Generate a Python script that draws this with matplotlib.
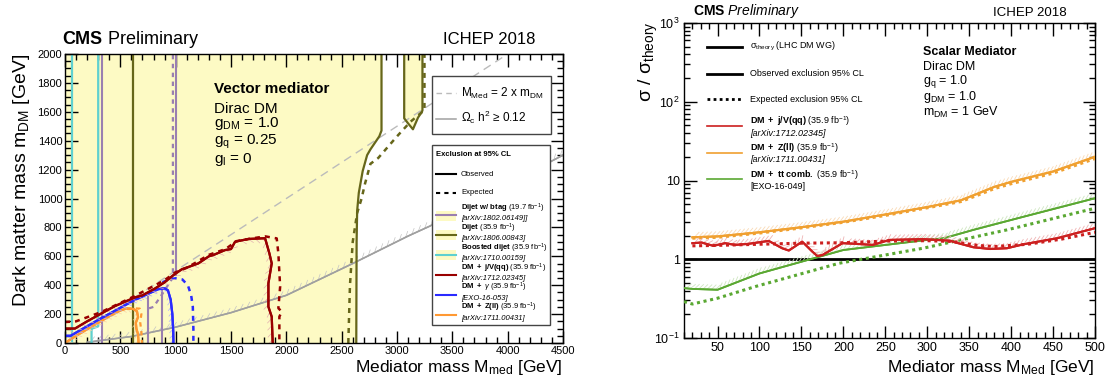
import matplotlib
matplotlib.use("Agg")
import matplotlib.pyplot as plt
from matplotlib import patheffects as pe
from matplotlib.patches import Rectangle
from matplotlib.lines import Line2D
from matplotlib.ticker import MultipleLocator, FixedLocator, FixedFormatter, LogLocator, NullFormatter

plt.rcParams['font.family'] = ['Liberation Sans', 'DejaVu Sans']
plt.rcParams['mathtext.fontset'] = 'custom'
plt.rcParams['mathtext.rm'] = 'Liberation Sans'
plt.rcParams['mathtext.it'] = 'Liberation Sans:italic'
plt.rcParams['mathtext.bf'] = 'Liberation Sans:bold'

# ---------------- left panel: vector mediator (M_med vs m_DM) ----------------
dijet_obs_x = [2632, 2635, 2640, 2655, 2690, 2730, 2760, 2800, 2840, 2860, 2860]
dijet_obs_y = [0, 700, 915, 1040, 1190, 1300, 1340, 1385, 1430, 1470, 2000]
dijet_exp_x = [2560, 2575, 2600, 2640, 2680, 2710, 2760, 2830, 3000, 3120, 3248, 3248]
dijet_exp_y = [0, 400, 700, 900, 1000, 1100, 1240, 1280, 1430, 1530, 1612, 2000]
dijet_island_x = [3065, 3065, 3100, 3144, 3190, 3225, 3230, 3230]
dijet_island_y = [2000, 1555, 1520, 1479, 1560, 1600, 1610, 2000]
dijet_low_x = [615, 615]
dijet_low_y = [0, 2000]

boosted_left_x = [60, 60]
boosted_left_y = [0, 2000]
boosted_right_x = [300, 300, 245, 240, 240]
boosted_right_y = [2000, 115, 100, 90, 0]
white_x = [240, 240, 300, 330, 330]
white_y = [0, 90, 115, 125, 0]

btag_left_x = [330, 330]
btag_left_y = [0, 2000]
btag_a_x = [748, 748]
btag_a_y = [0, 320]
btag_b_x = [874, 874]
btag_b_y = [0, 378]
btag_right_x = [1005, 1005]
btag_right_y = [470, 2000]
btag_exp_x = [760, 800, 880, 960, 975, 975]
btag_exp_y = [240, 250, 340, 436, 470, 2000]

jv_obs_x = [0, 90, 200, 330, 450, 630, 700, 815, 900, 980, 1055, 1130, 1205, 1300, 1341, 1446,
            1500, 1537, 1657, 1808, 1847, 1868, 1838, 1838, 1868, 1877]
jv_obs_y = [100, 100, 150, 205, 255, 315, 330, 378, 420, 470, 510, 530, 551, 600, 609, 643,
            650, 701, 720, 725, 620, 551, 413, 251, 182, 0]
jv_exp_x = [0, 100, 330, 630, 900, 1000, 1100, 1300, 1450, 1550, 1700, 1808, 1913, 1928, 1944,
            1928, 1958, 1937, 1937]
jv_exp_y = [145, 150, 215, 325, 435, 490, 520, 610, 650, 705, 725, 738, 724, 620, 390,
            241, 217, 182, 0]

gam_obs_x = [0, 50, 300, 630, 750, 850, 900, 930, 955, 970, 978, 980]
gam_obs_y = [50, 50, 160, 298, 340, 375, 378, 365, 300, 200, 80, 0]
gam_exp_x = [880, 940, 1000, 1060, 1110, 1140, 1155, 1160, 1160]
gam_exp_y = [420, 440, 448, 440, 400, 330, 250, 100, 0]

zll_obs_x = [0, 100, 200, 300, 400, 500, 560, 620, 650, 660, 640, 645, 660, 665]
zll_obs_y = [0, 50, 95, 140, 185, 225, 240, 235, 220, 180, 140, 100, 60, 0]
zll_exp_x = [560, 620, 675, 690, 680, 690, 695]
zll_exp_y = [235, 240, 238, 200, 140, 80, 0]

relic_x = [200, 300, 600, 1000, 1500, 2000, 2600, 3100, 3300, 3800, 4500]
relic_y = [5, 15, 45, 110, 210, 330, 550, 740, 810, 1020, 1300]
diag_x = [0, 4500]
diag_y = [0, 2250]

left_titles = [r"$\bf{Dijet\ w/\ btag}$ (19.7 fb$^{-1}$)", r"$\bf{Dijet}$ (35.9 fb$^{-1}$)",
               r"$\bf{Boosted\ dijet}$ (35.9 fb$^{-1}$)", r"$\bf{DM\ +\ j/V(qq)}$ (35.9 fb$^{-1}$)",
               r"$\bf{DM\ +}$ $\gamma$ (35.9 fb$^{-1}$)", r"$\bf{DM\ +\ Z(ll)}$ (35.9 fb$^{-1}$)"]
left_refs = ["[arXiv:1802.06149]]", "[arXiv:1806.00843]", "[arXiv:1710.00159]",
             "[arXiv:1712.02345]", "[EXO-16-053]", "[arXiv:1711.00431]"]
left_colors = ['#9a7fb0', '#66661a', '#5fd0d0', '#990000', '#2a2aff', '#ff9933']
left_filled = [True, True, True, False, False, False]

# ---------------- right panel: scalar mediator, sigma/sigma_theory ----------------
zll_r_x = [20, 50, 100, 150, 200, 250, 300, 340, 360, 380, 400, 450, 500]
zll_r_obs = [1.9, 1.95, 2.2, 2.55, 3.0, 3.7, 4.6, 5.6, 6.8, 8.3, 9.6, 13.0, 20.0]
zll_r_exp = [1.85, 1.9, 2.15, 2.5, 2.95, 3.6, 4.5, 5.4, 6.5, 7.9, 9.1, 12.4, 19.0]

jv_r_x = [20, 31, 45, 59, 71, 87, 111, 127, 135, 145, 151, 163, 169, 175, 199, 215, 235, 255,
          295, 327, 335, 355, 375, 395, 415, 455, 500]
jv_r_obs = [1.6, 1.63, 1.48, 1.6, 1.52, 1.57, 1.71, 1.38, 1.29, 1.52, 1.67, 1.25, 1.1, 1.13,
            1.6, 1.57, 1.52, 1.76, 1.8, 1.72, 1.62, 1.42, 1.35, 1.38, 1.55, 1.85, 2.48]
jv_r_exp_x = [20, 50, 100, 150, 200, 250, 300, 330, 360, 380, 420, 460, 500]
jv_r_exp = [1.48, 1.5, 1.55, 1.6, 1.62, 1.7, 1.72, 1.68, 1.5, 1.45, 1.55, 1.8, 2.2]

tt_r_x = [10, 20, 50, 100, 150, 200, 300, 320, 355, 415, 500]
tt_r_obs = [0.43, 0.42, 0.41, 0.66, 0.93, 1.31, 1.76, 1.85, 2.36, 3.47, 5.95]
tt_r_exp_x = [10, 20, 50, 95, 195, 295, 395, 500]
tt_r_exp = [0.29, 0.27, 0.32, 0.45, 0.89, 1.38, 2.36, 4.44]

theory_x = [10, 500]
theory_y = [1, 1]

W, H = 1109, 381


def fx(px):
    return px / W


def fy(py):
    return 1 - py / H


def hatch(color, angle, spacing=5, length=1.4, lw=0.6):
    return [pe.withTickedStroke(spacing=spacing, angle=angle, length=length,
                                foreground=color, linewidth=lw), pe.Normal()]


fig = plt.figure(figsize=(W / 100, H / 100), dpi=100)

# ======================= left panel =======================
axL = fig.add_axes([fx(65), fy(343), 498 / W, 289 / H])
axL.set_xlim(0, 4500)
axL.set_ylim(0, 2000)

yel = '#fdfac4'
axL.fill([0] + dijet_obs_x + [0], [0] + dijet_obs_y + [2000], color=yel, lw=0, zorder=1)
axL.fill(dijet_island_x, dijet_island_y, color=yel, lw=0, zorder=1)
axL.fill(white_x, white_y, color='white', lw=0, zorder=1.5)

axL.plot(diag_x, diag_y, color='#bbbbbb', lw=1, ls=(0, (6, 4)), zorder=2)
axL.plot(relic_x, relic_y, color='#a0a0a0', lw=1.1, zorder=2,
         path_effects=hatch('#c4c4c4', 45, spacing=5, length=0.9, lw=0.5))

olive = left_colors[1]
axL.plot(dijet_obs_x, dijet_obs_y, color=olive, lw=1.6, zorder=3)
axL.plot(dijet_island_x, dijet_island_y, color=olive, lw=1.6, zorder=3)
axL.plot(dijet_low_x, dijet_low_y, color=olive, lw=1.6, zorder=3)
axL.plot(dijet_exp_x, dijet_exp_y, color=olive, lw=1.8, ls=(0, (2, 2)), zorder=3)

cyan = left_colors[2]
axL.plot(boosted_left_x, boosted_left_y, color=cyan, lw=1.6, zorder=3)
axL.plot(boosted_right_x, boosted_right_y, color=cyan, lw=1.6, zorder=3)

purp = left_colors[0]
for xs, ys in [(btag_left_x, btag_left_y), (btag_a_x, btag_a_y), (btag_b_x, btag_b_y),
               (btag_right_x, btag_right_y)]:
    axL.plot(xs, ys, color=purp, lw=1.5, zorder=3)
axL.plot(btag_exp_x, btag_exp_y, color=purp, lw=1.6, ls=(0, (2, 2)), zorder=3)

axL.plot(zll_obs_x, zll_obs_y, color=left_colors[5], lw=1.6, zorder=4,
         path_effects=hatch('#f8d0a8', -45, spacing=4, length=0.9, lw=0.5))
axL.plot(zll_exp_x, zll_exp_y, color=left_colors[5], lw=1.6, ls=(0, (2, 2)), zorder=4)
axL.plot(gam_obs_x, gam_obs_y, color=left_colors[4], lw=1.6, zorder=5,
         path_effects=hatch('#b0b0ff', -45, spacing=4, length=0.9, lw=0.5))
axL.plot(gam_exp_x, gam_exp_y, color=left_colors[4], lw=1.8, ls=(0, (2, 2)), zorder=5)
axL.plot(jv_obs_x, jv_obs_y, color=left_colors[3], lw=1.6, zorder=6,
         path_effects=hatch('#e4b0b0', -45, spacing=5, length=0.9, lw=0.5))
axL.plot(jv_exp_x, jv_exp_y, color=left_colors[3], lw=1.8, ls=(0, (2, 2)), zorder=6)

axL.xaxis.set_major_locator(MultipleLocator(500))
axL.xaxis.set_minor_locator(MultipleLocator(100))
axL.yaxis.set_major_locator(MultipleLocator(200))
axL.yaxis.set_minor_locator(MultipleLocator(50))
axL.tick_params(which='both', direction='in', top=True, right=True, labelsize=8, pad=2)
axL.tick_params(which='major', length=9, width=1)
axL.tick_params(which='minor', length=4.5, width=1)
for s in axL.spines.values():
    s.set_linewidth(1)
    s.set_zorder(10)

fig.text(fx(62), fy(44), r"$\bf{CMS}$ Preliminary", fontsize=13, va='baseline')
fig.text(fx(535), fy(44), "ICHEP 2018", fontsize=12, ha='right', va='baseline')
fig.text(fx(22), fy(54), r"Dark matter mass m$_{\rm DM}$ [GeV]", fontsize=14,
         rotation=90, ha='center', va='top')
fig.text(fx(563), fy(372), r"Mediator mass M$_{\rm med}$ [GeV]", fontsize=12.5,
         ha='right', va='baseline')

fig.text(fx(214), fy(93), "Vector mediator", fontsize=11, fontweight='bold', va='baseline')
fig.text(fx(214), fy(113), "Dirac DM", fontsize=11, va='baseline')
fig.text(fx(214), fy(127), r"g$_{\rm DM}$ = 1.0", fontsize=11, va='baseline')
fig.text(fx(214), fy(145), r"g$_{\rm q}$ = 0.25", fontsize=11, va='baseline')
fig.text(fx(214), fy(163), r"g$_{\rm l}$ = 0", fontsize=11, va='baseline')

# legend box 1
fig.add_artist(Rectangle((fx(432), fy(134)), 119 / W, 58 / H, transform=fig.transFigure,
                         facecolor='white', edgecolor='#444444', lw=1, zorder=20))
fig.add_artist(Line2D([fx(436), fx(456)], [fy(93), fy(93)], transform=fig.transFigure,
                      color='#bbbbbb', lw=1, ls=(0, (4, 3)), zorder=21))
fig.add_artist(Line2D([fx(436), fx(456)], [fy(119), fy(119)], transform=fig.transFigure,
                      color='#a0a0a0', lw=1.1, zorder=21))
fig.text(fx(461), fy(93), r"M$_{\rm Med}$ = 2 x m$_{\rm DM}$", fontsize=8.5, va='center', zorder=22)
fig.text(fx(461), fy(117), r"$\Omega_{\rm c}$ h$^2$ ≥ 0.12", fontsize=8.5, va='center', zorder=22)

# legend box 2
fig.add_artist(Rectangle((fx(432), fy(325)), 118 / W, 180 / H, transform=fig.transFigure,
                         facecolor='white', edgecolor='#444444', lw=1, zorder=20))
fig.text(fx(436), fy(155), "Exclusion at 95% CL", fontsize=5.5, fontweight='bold',
         va='center', zorder=22)
fig.add_artist(Line2D([fx(436), fx(456)], [fy(174), fy(174)], transform=fig.transFigure,
                      color='black', lw=1.5, zorder=21))
fig.text(fx(461), fy(174), "Observed", fontsize=5.5, va='center', zorder=22)
fig.add_artist(Line2D([fx(436), fx(456)], [fy(193), fy(193)], transform=fig.transFigure,
                      color='black', lw=1.5, ls=(0, (2, 2)), zorder=21))
fig.text(fx(461), fy(193), "Expected", fontsize=5.5, va='center', zorder=22)
for k in range(6):
    ty = 208.5 + k * 19.8
    my = ty + 7
    if left_filled[k]:
        fig.add_artist(Rectangle((fx(436), fy(my + 5)), 20 / W, 10 / H, transform=fig.transFigure,
                                 facecolor=yel, lw=0, zorder=21))
    fig.add_artist(Line2D([fx(436), fx(456)], [fy(my), fy(my)], transform=fig.transFigure,
                          color=left_colors[k], lw=1.5, zorder=22))
    fig.text(fx(461), fy(ty), left_titles[k], fontsize=5.5, va='center', zorder=22)
    fig.text(fx(461), fy(ty + 10.5), left_refs[k], fontsize=5.5, style='italic',
             va='center', zorder=22)

# ======================= right panel =======================
axR = fig.add_axes([fx(684), fy(338), 411 / W, 315 / H])
axR.set_yscale('log')
axR.set_xlim(10, 500)
axR.set_ylim(0.1, 1000)

r_red, r_orange, r_green = '#cc1f1f', '#f0a030', '#5aa832'
axR.plot(theory_x, theory_y, color='black', lw=2, zorder=3)
axR.plot(tt_r_x, tt_r_obs, color=r_green, lw=1.3, zorder=4,
         path_effects=hatch('#cfe6c2', 45, spacing=3, length=1.6, lw=0.6))
axR.plot(tt_r_exp_x, tt_r_exp, color=r_green, lw=2.2, ls=(0, (1, 1.2)), zorder=4)
axR.plot(zll_r_x, zll_r_obs, color=r_orange, lw=1.5, zorder=5,
         path_effects=hatch('#f9dab6', 45, spacing=3, length=1.6, lw=0.6))
axR.plot(zll_r_x, zll_r_exp, color=r_orange, lw=2.2, ls=(0, (1, 1.2)), zorder=5)
axR.plot(jv_r_x, jv_r_obs, color=r_red, lw=1.5, zorder=6,
         path_effects=hatch('#efb4b4', 45, spacing=3, length=1.6, lw=0.6))
axR.plot(jv_r_exp_x, jv_r_exp, color=r_red, lw=2.2, ls=(0, (1, 1.2)), zorder=6)

axR.xaxis.set_major_locator(MultipleLocator(50))
axR.xaxis.set_minor_locator(MultipleLocator(10))
axR.yaxis.set_major_locator(FixedLocator([0.1, 1, 10, 100, 1000]))
axR.yaxis.set_major_formatter(FixedFormatter([r"10$^{-1}$", "1", "10", r"10$^2$", r"10$^3$"]))
axR.yaxis.set_minor_locator(LogLocator(base=10, subs=range(2, 10), numticks=20))
axR.yaxis.set_minor_formatter(NullFormatter())
axR.tick_params(which='both', direction='in', top=True, right=True, labelsize=9, pad=3)
axR.tick_params(which='major', length=9, width=1)
axR.tick_params(which='minor', length=4.5, width=1)
for s in axR.spines.values():
    s.set_linewidth(1)

fig.text(fx(693), fy(15), r"$\bf{CMS}$ $\it{Preliminary}$", fontsize=10, va='baseline')
fig.text(fx(1067), fy(16), "ICHEP 2018", fontsize=9.5, ha='right', va='baseline')
fig.text(fx(648), fy(22), r"σ / σ$_{\rm theory}$", fontsize=14, rotation=90,
         ha='center', va='top')
fig.text(fx(1095), fy(372), r"Mediator mass M$_{\rm Med}$ [GeV]", fontsize=12.5,
         ha='right', va='baseline')

fig.text(fx(923), fy(55), "Scalar Mediator", fontsize=9, fontweight='bold', va='baseline')
fig.text(fx(923), fy(70), "Dirac DM", fontsize=9, va='baseline')
fig.text(fx(923), fy(84), r"g$_{\rm q}$ = 1.0", fontsize=9, va='baseline')
fig.text(fx(923), fy(100), r"g$_{\rm DM}$ = 1.0", fontsize=9, va='baseline')
fig.text(fx(923), fy(116), r"m$_{\rm DM}$ = 1 GeV", fontsize=9, va='baseline')

r_leg = [(46.7, 'black', '-', r"σ$_{\rm theory}$ (LHC DM WG)", None),
         (74, 'black', '-', "Observed exclusion 95% CL", None),
         (99, 'black', ':', "Expected exclusion 95% CL", None),
         (126, r_red, '-', r"$\bf{DM\ +\ j/V(qq)}$ (35.9 fb$^{-1}$)", "[arXiv:1712.02345]"),
         (152.7, r_orange, '-', r"$\bf{DM\ +\ Z(ll)}$ (35.9 fb$^{-1}$)", "[arXiv:1711.00431]"),
         (179.3, r_green, '-', r"$\bf{DM\ +\ tt\ comb.}$ (35.9 fb$^{-1}$)", "[EXO-16-049]")]
for i, (py, col, ls, t1, t2) in enumerate(r_leg):
    lw = 2 if col == 'black' else 1.2
    style = (0, (1, 1.2)) if ls == ':' else '-'
    fig.add_artist(Line2D([fx(707), fx(742)], [fy(py), fy(py)], transform=fig.transFigure,
                          color=col, lw=lw, ls=style))
    if t2 is None:
        fig.text(fx(750), fy(py), t1, fontsize=6.5, va='center')
    else:
        fig.text(fx(750), fy(py - 4.5), t1, fontsize=6.5, va='center')
        fig.text(fx(750), fy(py + 7), t2, fontsize=6.5, va='center',
                 style='normal' if i == 5 else 'italic')

fig.savefig('out.png', dpi=100)
